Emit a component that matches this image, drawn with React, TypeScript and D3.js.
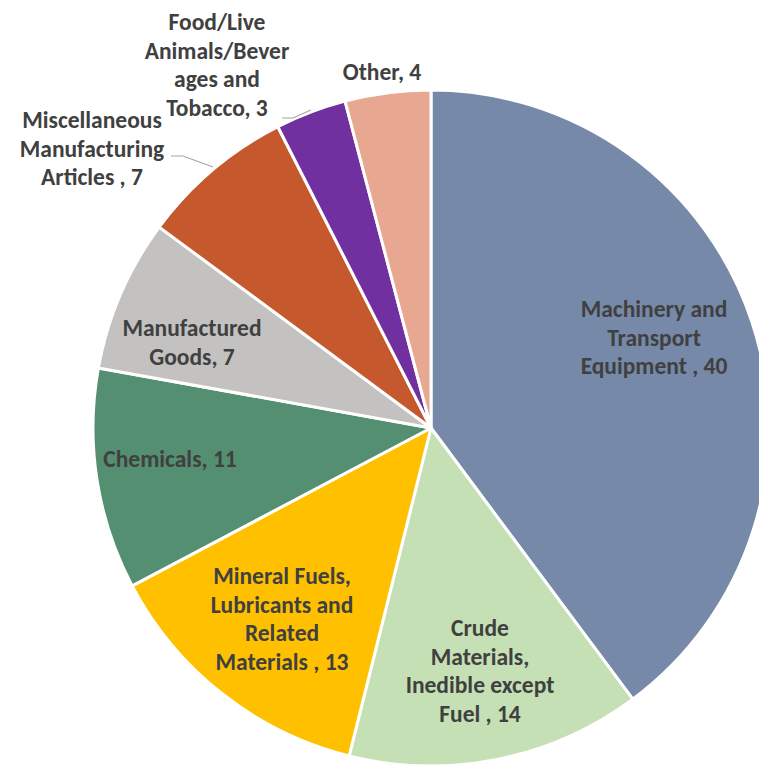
import React from "react";
import * as d3 from "d3";

const categories = [
  "Machinery and Transport Equipment",
  "Crude Materials, Inedible except Fuel",
  "Mineral Fuels, Lubricants and Related Materials",
  "Chemicals",
  "Manufactured Goods",
  "Miscellaneous Manufacturing Articles",
  "Food/Live Animals/Beverages and Tobacco",
  "Other",
];
const values = [39.9, 14.1, 13.4, 10.6, 7.3, 7.4, 3.4, 4.1];
const labelLines = [
  ["Machinery and", "Transport", "Equipment , {v}"],
  ["Crude", "Materials,", "Inedible except", "Fuel , {v}"],
  ["Mineral Fuels,", "Lubricants and", "Related", "Materials , {v}"],
  ["Chemicals, {v}"],
  ["Manufactured", "Goods, {v}"],
  ["Miscellaneous", "Manufacturing", "Articles , {v}"],
  ["Food/Live", "Animals/Bever", "ages and", "Tobacco, {v}"],
  ["Other, {v}"],
];
const colors = ["#7789A9", "#C5E0B4", "#FFC000", "#558F71", "#C4C2C1", "#C5582C", "#7030A0", "#E8A790"];
// label anchor: [x center, first baseline]
const labelPos: [number, number][] = [
  [654, 317],
  [480, 636],
  [282, 584],
  [170, 467],
  [192, 336],
  [92, 128],
  [217, 30],
  [382, 80],
];
const leaders: [number, number][][] = [
  [],
  [],
  [],
  [],
  [],
  [[171, 156], [183, 156], [213, 167]],
  [[282, 118], [293, 118], [311, 110]],
  [],
];

export default function App() {
  const W = 759, H = 765;
  const cx = 431, cy = 428, r = 338;
  const pie = d3.pie<number>().sort(null).value((d) => d).startAngle(0).endAngle(2 * Math.PI);
  const arcs = pie(values);
  const arc = d3.arc<d3.PieArcDatum<number>>().innerRadius(0).outerRadius(r);
  const fmt = d3.format(".0f");
  const lh = 28.7;
  const line = d3.line();
  return (
    <svg width={W} height={H} style={{ position: "absolute", left: 0, top: 0, background: "#fff" }}
      fontFamily="Carlito, Calibri, Lato, sans-serif">
      <g transform={`translate(${cx},${cy})`}>
        {arcs.map((a, i) => (
          <path key={categories[i]} d={arc(a) || ""} fill={colors[i]} stroke="#fff" strokeWidth={3} strokeLinejoin="round" />
        ))}
      </g>
      {leaders.map((pts, i) =>
        pts.length ? <path key={"l" + i} d={line(pts) || ""} fill="none" stroke="#A6A6A6" strokeWidth={1.2} /> : null
      )}
      {labelLines.map((lines, i) => (
        <text key={"t" + i} textAnchor="middle" fontWeight="bold" fontSize={23.5} fill="#404040">
          {lines.map((s, j) => (
            <tspan key={j} x={labelPos[i][0]} y={labelPos[i][1] + j * lh}>
              {s.replace("{v}", fmt(values[i]))}
            </tspan>
          ))}
        </text>
      ))}
    </svg>
  );
}
